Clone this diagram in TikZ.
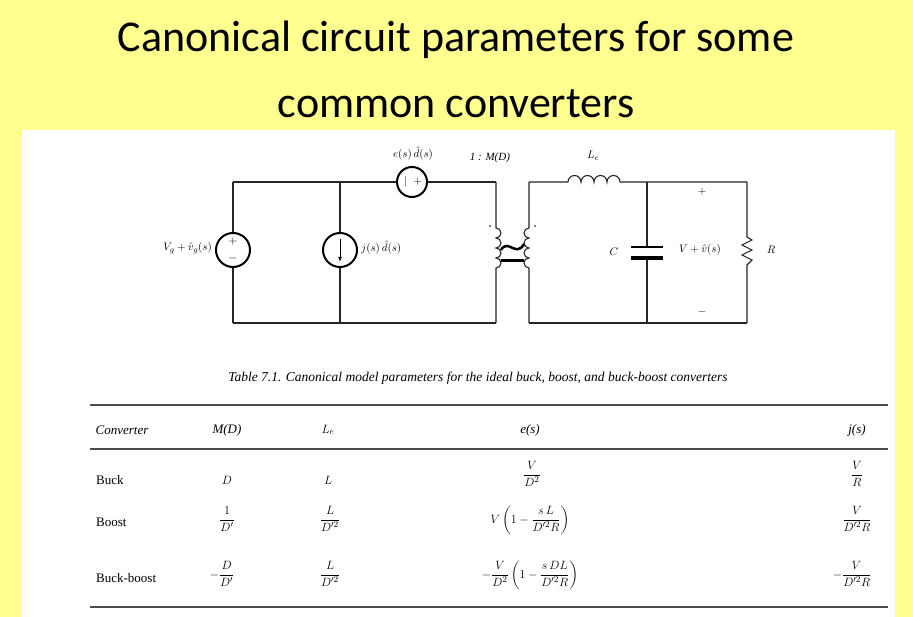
\documentclass[tikz,border=0pt]{standalone}
\usepackage{amsmath}
\usepackage{fontspec}
\usetikzlibrary{arrows.meta}
\setmainfont{Liberation Serif}
\newfontfamily\titlefont{Carlito}
\begin{document}
\begin{tikzpicture}[x=1pt,y=-1pt,
  wire/.style={line width=1.1pt,black!85},
  src/.style={circle,draw,line width=2pt,minimum size=#1,inner sep=0pt},
  ctext/.style={font=\fontsize{11}{13}\selectfont,inner sep=1pt},
  ttext/.style={font=\fontsize{13}{15}\selectfont,inner sep=1pt},
  rule/.style={line width=1.2pt,black!70}]
\useasboundingbox (0,0) rectangle (913,617);
\fill[fill={rgb,255:red,255;green,255;blue,143}] (0,0) rectangle (913,617);
\fill[white] (22,130) rectangle (895,617);
\node[font=\titlefont\fontsize{44}{50}\selectfont] (t1) at (456,40) {Canonical circuit parameters for some};
\node[font=\titlefont\fontsize{44}{50}\selectfont] (t2) at (456,104) {common converters};
% junctions
\coordinate (tl) at (233,182); \coordinate (bl) at (233,323);
\coordinate (tj) at (340,182); \coordinate (bj) at (340,323);
\coordinate (pt) at (496,182); \coordinate (pb) at (496,323);
\coordinate (st) at (529,182); \coordinate (sb) at (529,323);
\coordinate (ct) at (647,182); \coordinate (cb) at (647,323);
\coordinate (rt) at (747,182); \coordinate (rb) at (747,323);
% sources
\node[src=34pt] (vg) at (233,250) {};
\node[font=\fontsize{12}{12}\selectfont] at (233,242) {$+$};
\node[font=\fontsize{12}{12}\selectfont] at (233,259) {$-$};
\node[src=34pt] (js) at (340,250) {};
\draw[-{Latex[length=5pt]},line width=0.8pt] (340,239) -- (340,262);
\node[src=30pt] (es) at (412,182) {};
\node[font=\fontsize{11}{11}\selectfont] at (406,182) {$|$};
\node[font=\fontsize{11}{11}\selectfont] at (418,182) {$+$};
% left loop wires
\draw[wire] (tl) -- (vg.north); \draw[wire] (vg.south) -- (bl);
\draw[wire] (tj) -- (js.north); \draw[wire] (js.south) -- (bj);
\draw[wire] (tl) -- (es.west); \draw[wire] (es.east) -- (pt);
\draw[wire] (bl) -- (pb);
% transformer primary
\draw[wire] (pt) -- (496,228) arc[start angle=90,end angle=-90,radius=5pt]
  arc[start angle=90,end angle=-90,radius=5pt] arc[start angle=90,end angle=-90,radius=5pt]
  arc[start angle=90,end angle=-90,radius=5pt] -- (pb);
\draw[wire] (st) -- (529,228) arc[start angle=90,end angle=270,radius=5pt]
  arc[start angle=90,end angle=270,radius=5pt] arc[start angle=90,end angle=270,radius=5pt]
  arc[start angle=90,end angle=270,radius=5pt] -- (sb);
\draw[line width=3pt] (501,261) -- (524,261);
\draw[line width=2.5pt] (501,250) .. controls (508,238) and (516,258) .. (524,244);
\fill (490,226) circle (0.9pt); \fill (535,226) circle (0.9pt);
% secondary
\draw[wire] (st) -- (568,182) arc[start angle=180,end angle=0,radius=6.5pt]
  arc[start angle=180,end angle=0,radius=6.5pt] arc[start angle=180,end angle=0,radius=6.5pt]
  arc[start angle=180,end angle=0,radius=6.5pt] -- (ct) -- (rt);
\draw[wire] (sb) -- (cb) -- (rb);
\draw[wire] (ct) -- (647,247); \draw[wire] (647,258) -- (cb);
\draw[line width=1.5pt] (631,247) -- (663,247);
\draw[line width=3.5pt] (631,258) -- (663,258);
\draw[wire] (rt) -- (747,237) -- (752,240) -- (742,245) -- (752,250) -- (742,255) -- (752,260) -- (747,265) -- (rb);
% circuit labels
\node[ctext,anchor=east] (lvg) at (213,248) {$V_g+\hat v_g(s)$};
\node[ctext,anchor=west] (ljs) at (360,248) {$j(s)\,\hat d(s)$};
\node[ctext] (les) at (413,154) {$e(s)\,\hat d(s)$};
\node[ctext] (lm) at (490,158) {\itshape 1 : M(D)};
\node[ctext] (lle) at (593,156) {$L_e$};
\node[ctext] (lc) at (614,252) {$C$};
\node[ctext] (lv) at (700,250) {$V+\hat v(s)$};
\node[ctext] (lr) at (771,250) {$R$};
\node[ctext] (lp) at (702,192) {$+$};
\node[ctext] (lmn) at (702,312) {$-$};
% table
\node[font=\itshape\fontsize{13.5}{15}\selectfont] (cap) at (478,378) {Table 7.1. Canonical model parameters for the ideal buck, boost, and buck-boost converters};
\draw[rule] (90,405) -- (888,405);
\draw[rule] (90,449) -- (888,449);
\draw[rule] (90,607) -- (888,607);
\node[ttext,font=\itshape\fontsize{13}{15}\selectfont] at (122,430) {Converter};
\node[ttext,font=\itshape\fontsize{13}{15}\selectfont] at (227,430) {M(D)};
\node[ttext] at (328,430) {$L_e$};
\node[ttext,font=\itshape\fontsize{13}{15}\selectfont] at (530,430) {e(s)};
\node[ttext,font=\itshape\fontsize{13}{15}\selectfont] at (857,430) {j(s)};
\node[ttext,anchor=west] at (95,480) {Buck};
\node[ttext,anchor=west] at (95,522) {Boost};
\node[ttext,anchor=west] at (95,578) {Buck-boost};
\node[ttext] at (227,480) {$D$};
\node[ttext] at (328,480) {$L$};
\node[ttext] at (532,474) {$\dfrac{V}{D^2}$};
\node[ttext] at (857,474) {$\dfrac{V}{R}$};
\node[ttext] at (227,519) {$\dfrac{1}{D'}$};
\node[ttext] at (330,519) {$\dfrac{L}{D'^2}$};
\node[ttext] at (530,520) {$V\left(1-\dfrac{s\,L}{D'^2R}\right)$};
\node[ttext] at (857,519) {$\dfrac{V}{D'^2R}$};
\node[ttext] at (222,574) {$-\dfrac{D}{D'}$};
\node[ttext] at (330,574) {$\dfrac{L}{D'^2}$};
\node[ttext] at (530,575) {$-\dfrac{V}{D^2}\left(1-\dfrac{s\,DL}{D'^2R}\right)$};
\node[ttext] at (852,574) {$-\dfrac{V}{D'^2R}$};
\end{tikzpicture}
\end{document}
